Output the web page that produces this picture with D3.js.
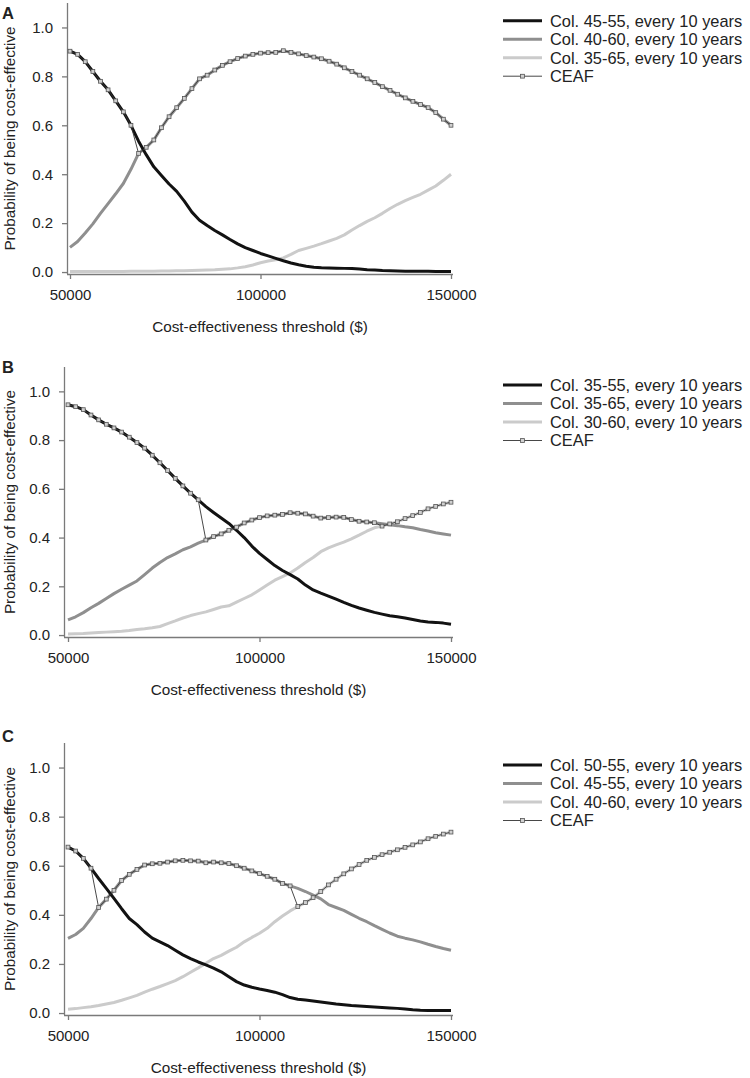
<!DOCTYPE html>
<html><head><meta charset="utf-8">
<script src="https://cdn.jsdelivr.net/npm/d3@7"></script>
<style>
body{margin:0;background:#fff}
svg{display:block}
text{font-family:"Liberation Sans",Arial,Helvetica,sans-serif;fill:#222}
</style>
</head><body>
<svg id="chart" width="750" height="1078"></svg>
<script>
// ---------- DATA ----------
const thresholds = d3.range(50000, 150001, 2000); // cost-effectiveness thresholds ($)
const xTicks = [50000, 100000, 150000];
const yTicks = [0, 0.2, 0.4, 0.6, 0.8, 1.0];
const xTitle = "Cost-effectiveness threshold ($)";
const yTitle = "Probability of being cost-effective";

const aNames = ["Col. 45-55, every 10 years", "Col. 40-60, every 10 years", "Col. 35-65, every 10 years", "CEAF"];
const aBlack = [0.903,0.89,0.86,0.82,0.78,0.745,0.70,0.655,0.60,0.535, 0.48,0.43,0.395,0.36,0.33,0.29,0.245,0.212,0.19,0.17, 0.152,0.133,0.115,0.10,0.088,0.076,0.066,0.056,0.046,0.037, 0.03,0.024,0.02,0.018,0.017,0.016,0.015,0.014,0.012,0.009, 0.008,0.006,0.005,0.004,0.003,0.003,0.003,0.003,0.002,0.002, 0.002];
const aGray  = [0.101,0.125,0.16,0.197,0.24,0.28,0.32,0.362,0.42,0.485, 0.51,0.54,0.59,0.635,0.672,0.71,0.75,0.79,0.805,0.826, 0.845,0.86,0.873,0.883,0.89,0.895,0.897,0.898,0.905,0.898, 0.892,0.885,0.879,0.872,0.862,0.85,0.835,0.82,0.805,0.79, 0.775,0.758,0.743,0.727,0.712,0.698,0.685,0.672,0.652,0.625, 0.60];
const aLight = [0.002,0.002,0.002,0.002,0.002,0.002,0.002,0.002,0.003,0.003, 0.003,0.003,0.004,0.004,0.005,0.005,0.006,0.007,0.008,0.009, 0.011,0.013,0.017,0.022,0.029,0.038,0.045,0.05,0.058,0.072, 0.088,0.097,0.106,0.116,0.127,0.138,0.152,0.172,0.19,0.207, 0.222,0.24,0.26,0.277,0.292,0.305,0.318,0.335,0.352,0.375, 0.40];
const aCeaf = [[50000, 0], [68000, 1]]; // [from threshold, optimal strategy index]

const bNames = ["Col. 35-55, every 10 years", "Col. 35-65, every 10 years", "Col. 30-60, every 10 years", "CEAF"];
const bBlack = [0.945,0.937,0.925,0.903,0.883,0.865,0.85,0.833,0.812,0.79, 0.767,0.738,0.707,0.675,0.643,0.612,0.582,0.555,0.527,0.503, 0.48,0.458,0.43,0.40,0.365,0.335,0.31,0.285,0.265,0.248, 0.23,0.205,0.185,0.172,0.16,0.147,0.134,0.122,0.111,0.102, 0.093,0.086,0.079,0.075,0.07,0.064,0.058,0.054,0.052,0.049, 0.044];
const bGray  = [0.062,0.075,0.092,0.112,0.13,0.15,0.17,0.188,0.205,0.222, 0.248,0.275,0.298,0.318,0.333,0.35,0.362,0.377,0.39,0.404, 0.415,0.43,0.443,0.46,0.472,0.482,0.489,0.492,0.495,0.502, 0.5,0.497,0.488,0.48,0.482,0.484,0.483,0.474,0.467,0.464, 0.461,0.457,0.453,0.449,0.444,0.44,0.433,0.427,0.42,0.415, 0.41];
const bLight = [0.004,0.005,0.006,0.008,0.01,0.012,0.014,0.016,0.019,0.023, 0.026,0.03,0.035,0.047,0.058,0.07,0.08,0.088,0.095,0.105, 0.115,0.12,0.135,0.15,0.165,0.185,0.205,0.225,0.24,0.255, 0.275,0.298,0.318,0.342,0.358,0.37,0.381,0.395,0.41,0.426, 0.44,0.447,0.456,0.465,0.478,0.49,0.503,0.518,0.528,0.538, 0.545];
const bCeaf = [[50000, 0], [86000, 1], [132000, 2]];

const cNames = ["Col. 50-55, every 10 years", "Col. 45-55, every 10 years", "Col. 40-60, every 10 years", "CEAF"];
const cBlack = [0.676,0.66,0.63,0.59,0.548,0.508,0.467,0.425,0.385,0.36, 0.33,0.305,0.29,0.275,0.256,0.237,0.222,0.208,0.196,0.183, 0.168,0.148,0.128,0.114,0.105,0.098,0.092,0.085,0.075,0.063, 0.056,0.053,0.049,0.045,0.041,0.037,0.034,0.031,0.029,0.027, 0.025,0.023,0.021,0.019,0.016,0.013,0.011,0.01,0.01,0.01, 0.01];
const cGray  = [0.304,0.32,0.345,0.385,0.43,0.464,0.50,0.54,0.565,0.585, 0.603,0.608,0.61,0.615,0.62,0.622,0.62,0.619,0.612,0.615, 0.612,0.609,0.6,0.59,0.579,0.568,0.557,0.545,0.528,0.518, 0.508,0.495,0.48,0.465,0.442,0.43,0.418,0.402,0.386,0.372, 0.356,0.341,0.326,0.313,0.305,0.298,0.29,0.28,0.271,0.263, 0.256];
const cLight = [0.015,0.018,0.022,0.026,0.031,0.037,0.043,0.052,0.062,0.072, 0.085,0.097,0.108,0.12,0.132,0.148,0.166,0.184,0.203,0.222, 0.235,0.252,0.268,0.29,0.308,0.325,0.345,0.372,0.395,0.416, 0.434,0.45,0.47,0.495,0.522,0.545,0.567,0.587,0.605,0.622, 0.634,0.645,0.655,0.665,0.675,0.685,0.697,0.71,0.72,0.729, 0.737];
const cCeaf = [[50000, 0], [58000, 1], [110000, 2]];

// ---------- STYLE / LAYOUT ----------
const seriesColors = ["#121212", "#8f8f8f", "#cbcbcb"];
const axisColor = "#7a7a7a";
const panels = [
  {letter: "A", names: aNames, series: [aBlack, aGray, aLight], ceaf: aCeaf, top: 3,   bottom: 274,  axisX: 67, x50: 70, letterY: 18.5, legendY: 20.7},
  {letter: "B", names: bNames, series: [bBlack, bGray, bLight], ceaf: bCeaf, top: 367, bottom: 637,  axisX: 64, x50: 68, letterY: 373,  legendY: 385},
  {letter: "C", names: cNames, series: [cBlack, cGray, cLight], ceaf: cCeaf, top: 743, bottom: 1015, axisX: 64, x50: 68, letterY: 742,  legendY: 765}
];
const xRight = 451, axisRight = 453;
const font = '"Liberation Sans",Arial,Helvetica,sans-serif';

const svg = d3.select("#chart");

panels.forEach(p => {
  const g = svg.append("g");
  const x = d3.scaleLinear().domain([50000, 150000]).range([p.x50, xRight]);
  const y = d3.scaleLinear().domain([-0.008, 1.1]).range([p.bottom, p.top]);

  // axes
  const xa = g.append("g").attr("transform", `translate(0,${p.bottom})`)
    .call(d3.axisBottom(x).tickValues(xTicks).tickFormat(d3.format("d")).tickSize(5).tickSizeOuter(0).tickPadding(10));
  xa.select(".domain").attr("d", `M${p.axisX},0.5H${axisRight}`);
  const ya = g.append("g").attr("transform", `translate(${p.axisX},0)`)
    .call(d3.axisLeft(y).tickValues(yTicks).tickFormat(d3.format(".1f")).tickSize(5).tickSizeOuter(0).tickPadding(9));
  ya.select(".domain").attr("d", `M0.5,${p.top}V${p.bottom}`);
  [xa, ya].forEach(a => {
    a.attr("font-family", font).attr("font-size", 15);
    a.selectAll("path,line").attr("stroke", axisColor).attr("stroke-width", 1.3);
    a.selectAll("text").attr("fill", "#222");
  });

  // titles
  g.append("text").attr("x", (p.axisX + axisRight) / 2).attr("y", p.bottom + 58)
    .attr("text-anchor", "middle").attr("font-size", 15.3).text(xTitle);
  g.append("text").attr("transform", `translate(14.5,${(p.top + p.bottom) / 2}) rotate(-90)`)
    .attr("text-anchor", "middle").attr("font-size", 15.3).text(yTitle);
  g.append("text").attr("x", 2).attr("y", p.letterY).attr("font-size", 16.5)
    .attr("font-weight", "bold").attr("fill", "#111").text(p.letter);

  // series lines
  const line = d3.line().x(d => x(d[0])).y(d => y(d[1]));
  const order = [2, 1, 0];
  order.forEach(i => {
    const pts = thresholds.map((t, k) => [t, p.series[i][k]]);
    g.append("path").datum(pts).attr("d", line).attr("fill", "none")
      .attr("stroke", seriesColors[i]).attr("stroke-width", 3).attr("stroke-linejoin", "round");
  });

  // CEAF: value of the optimal strategy at each threshold
  const ceafPts = thresholds.map((t, k) => {
    let s = 0;
    p.ceaf.forEach(c => { if (t >= c[0]) s = c[1]; });
    return [t, p.series[s][k]];
  });
  g.append("path").datum(ceafPts).attr("d", line).attr("fill", "none")
    .attr("stroke", "#333").attr("stroke-width", 0.9);
  g.selectAll("rect.m").data(ceafPts).enter().append("rect").attr("class", "m")
    .attr("x", d => x(d[0]) - 1.9).attr("y", d => y(d[1]) - 1.9)
    .attr("width", 3.8).attr("height", 3.8)
    .attr("fill", "#d0d0d0").attr("stroke", "#555").attr("stroke-width", 0.8);

  // legend
  const lg = g.append("g");
  p.names.forEach((n, i) => {
    const ly = p.legendY + i * 18.5;
    if (i < 3) {
      lg.append("line").attr("x1", 503).attr("x2", 542).attr("y1", ly).attr("y2", ly)
        .attr("stroke", seriesColors[i]).attr("stroke-width", 3);
    } else {
      lg.append("line").attr("x1", 503).attr("x2", 542).attr("y1", ly).attr("y2", ly)
        .attr("stroke", "#333").attr("stroke-width", 0.9);
      lg.append("rect").attr("x", 522.5 - 1.9).attr("y", ly - 1.9).attr("width", 3.8).attr("height", 3.8)
        .attr("fill", "#d0d0d0").attr("stroke", "#555").attr("stroke-width", 0.8);
    }
    lg.append("text").attr("x", 550).attr("y", ly).attr("dy", "0.36em")
      .attr("font-size", 16.4).text(n);
  });
});
</script>
</body></html>
